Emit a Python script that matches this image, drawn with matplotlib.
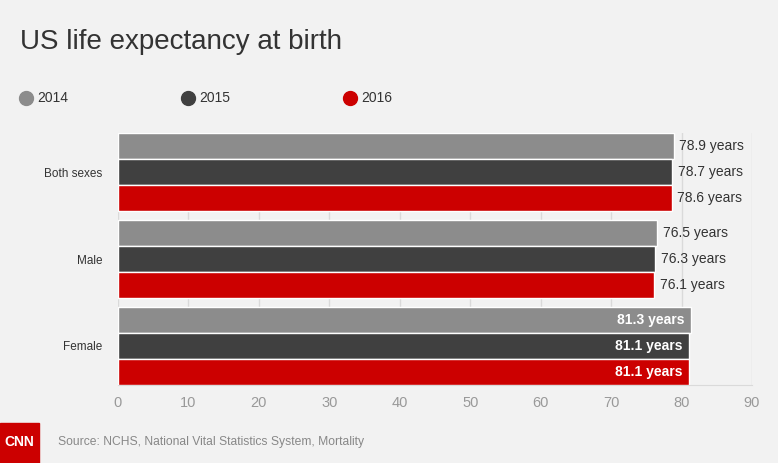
import numpy as np
import matplotlib
matplotlib.use('Agg')
import matplotlib.pyplot as plt
from matplotlib.patches import Rectangle
from matplotlib.lines import Line2D

plt.rcParams['font.family'] = ['Liberation Sans', 'DejaVu Sans']

# data
categories = ['Both sexes', 'Male', 'Female']
years = ['2014', '2015', '2016']
values_2014 = [78.9, 76.5, 81.3]
values_2015 = [78.7, 76.3, 81.1]
values_2016 = [78.6, 76.1, 81.1]
x_ticks = [0, 10, 20, 30, 40, 50, 60, 70, 80, 90]

colors = ['#8c8c8c', '#404040', '#cc0000']
bg = '#f2f2f2'

fig = plt.figure(figsize=(7.78, 4.63), dpi=100)
fig.patch.set_facecolor(bg)
ax = fig.add_axes([118 / 778, 1 - 385 / 463, (752 - 118) / 778, (385 - 133) / 463])
ax.set_facecolor(bg)

series = [values_2014, values_2015, values_2016]
step = 26 / 87
h = 26 / 87
y0 = np.arange(len(categories))
for i, vals in enumerate(series):
    ys = y0 + (i - 1) * step
    ax.barh(ys, vals, height=h, color=colors[i], edgecolor='white',
            linewidth=1.0, zorder=3)
    for y, v in zip(ys, vals):
        label = f'{v} years'
        if v > 80:
            ax.text(v - 0.9, y, label, ha='right', va='center', color='white',
                    fontsize=10, fontweight='bold', zorder=4)
        else:
            ax.text(v + 0.8, y, label, ha='left', va='center', color='#333333',
                    fontsize=10, zorder=4)

ax.set_xlim(0, 90)
ax.set_ylim(2.45, -0.45)
ax.set_xticks(x_ticks)
ax.set_yticks(y0)
ax.set_yticklabels(categories, fontsize=8.5, color='#333333')
ax.tick_params(axis='y', length=0, pad=11)
ax.tick_params(axis='x', length=0, pad=8, labelsize=10.5, labelcolor='#999999')
ax.grid(axis='x', color='#dadada', linewidth=1, zorder=0)
for s in ['top', 'left', 'right']:
    ax.spines[s].set_visible(False)
ax.spines['bottom'].set_color('#dadada')

# title
fig.text(20 / 778, 1 - 42 / 463, 'US life expectancy at birth', fontsize=20,
         color='#333333', va='center', ha='left')

# legend
leg_x = [26, 188, 350]
for lx, yr, c in zip(leg_x, years, colors):
    fig.add_artist(Line2D([lx / 778], [1 - 98 / 463], marker='o', markersize=10,
                          color=c, linestyle='none', transform=fig.transFigure))
    fig.text((lx + 11) / 778, 1 - 98 / 463, yr, fontsize=10, color='#333333',
             va='center', ha='left')

# footer
fig.patches.append(Rectangle((0, 0), 39 / 778, 40 / 463, transform=fig.transFigure,
                             color='#cc0000', figure=fig))
fig.text(19 / 778, 1 - 442 / 463, 'CNN', fontsize=10, color='white',
         fontweight='bold', ha='center', va='center')
fig.text(58 / 778, 1 - 442 / 463, 'Source: NCHS, National Vital Statistics System, Mortality',
         fontsize=8.7, color='#888888', va='center', ha='left')

fig.savefig('out.png', dpi=100, facecolor=bg)
